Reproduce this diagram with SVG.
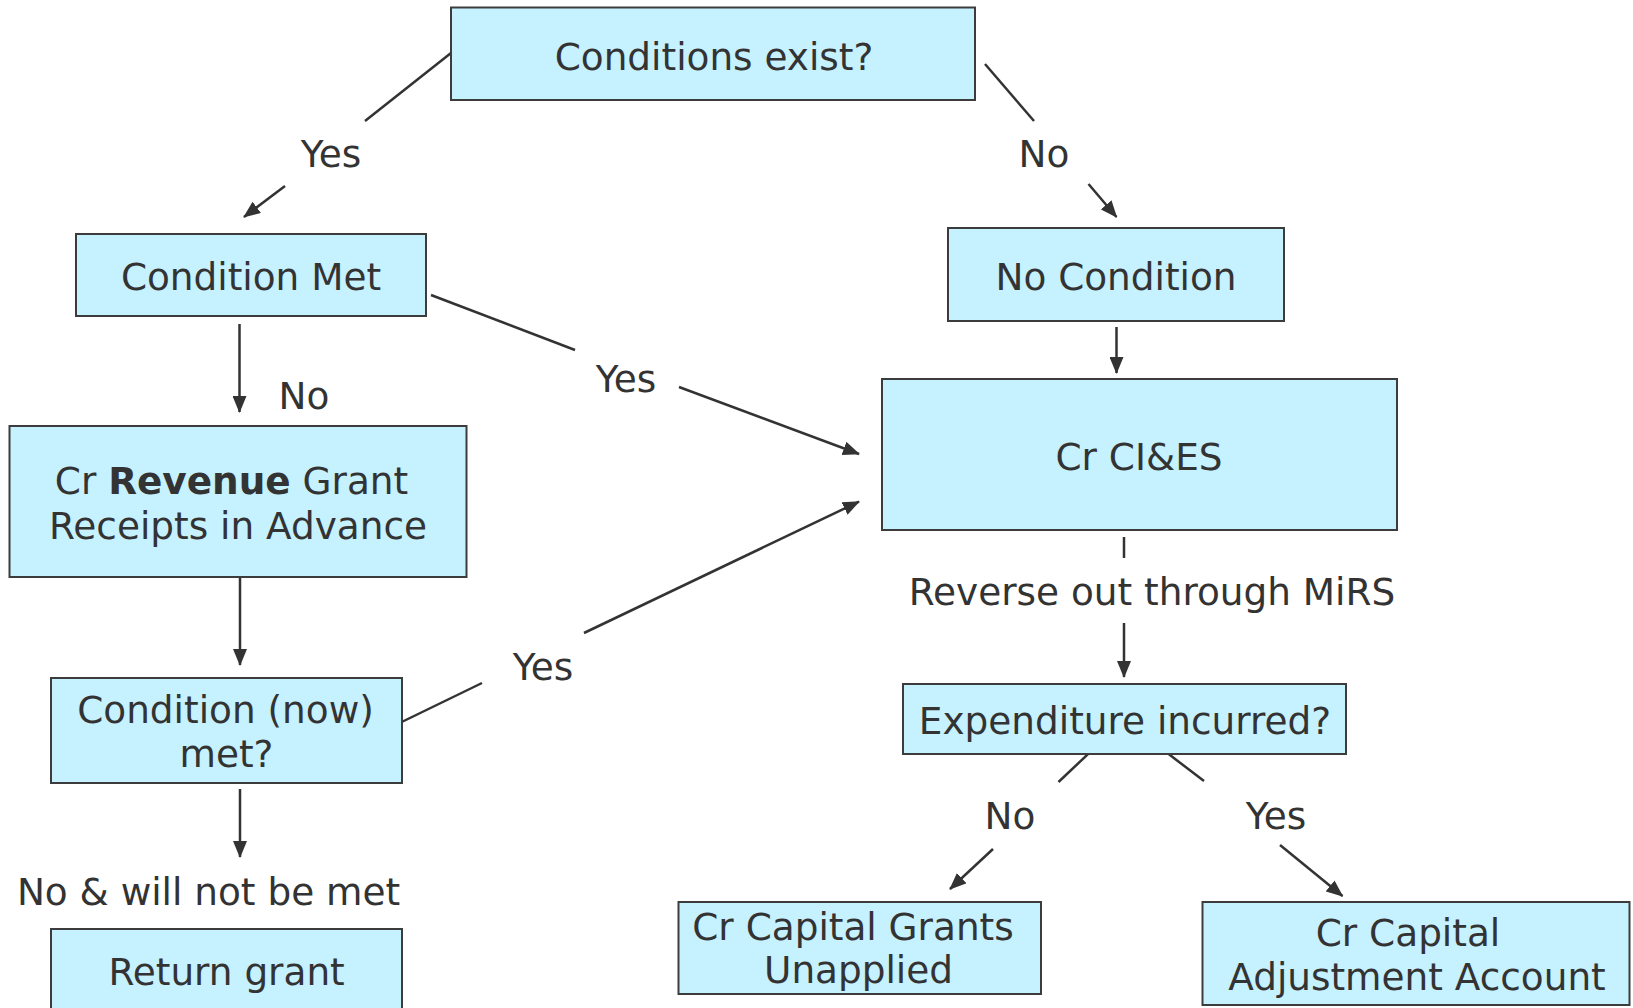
<svg xmlns="http://www.w3.org/2000/svg" width="1633" height="1008" viewBox="0 0 1633 1008">
<style>
.box{fill:#C6F1FF;stroke:#3c3c3c;stroke-width:2}
.t{font-family:"DejaVu Sans","Verdana",sans-serif;font-size:37.4px;fill:#333;text-anchor:middle}
.b{font-weight:bold}
.c{stroke:#333;stroke-width:2.5;fill:none}
.a{marker-end:url(#arr)}
</style>
<defs>
<marker id="arr" markerUnits="userSpaceOnUse" markerWidth="17" markerHeight="14" refX="16" refY="7" orient="auto">
<path d="M0,0 L17,7 L0,14 z" fill="#333"/>
</marker>
</defs>
<rect width="1633" height="1008" fill="#fff"/>
<g id="connectors">
<line class="c" x1="451" y1="53" x2="365" y2="121"/>
<line class="c a" x1="285" y1="186" x2="244" y2="217"/>
<line class="c" x1="985" y1="64" x2="1034" y2="121"/>
<line class="c a" x1="1088.5" y1="184" x2="1116.5" y2="217"/>
<line class="c a" x1="1116.5" y1="327" x2="1116.5" y2="373"/>
<line class="c a" x1="239.5" y1="324" x2="239.5" y2="412"/>
<line class="c" x1="431" y1="295" x2="575" y2="350"/>
<line class="c a" x1="679" y1="387" x2="859" y2="454"/>
<line class="c a" x1="240" y1="577" x2="240" y2="665"/>
<line class="c a" x1="240" y1="789" x2="240" y2="857"/>
<line class="c" x1="401.7" y1="722" x2="482" y2="683"/>
<line class="c a" x1="584" y1="633" x2="859" y2="501.6"/>
<line class="c" x1="1124" y1="537" x2="1124" y2="558"/>
<line class="c a" x1="1124" y1="623" x2="1124" y2="677"/>
<line class="c" x1="1088.5" y1="753.6" x2="1058.5" y2="782"/>
<line class="c a" x1="993" y1="849" x2="950" y2="889"/>
<line class="c" x1="1168" y1="753.6" x2="1204" y2="781"/>
<line class="c a" x1="1280" y1="845" x2="1342.5" y2="896"/>
</g>
<g id="labels">
<text class="t" x="331" y="167">Yes</text>
<text class="t" x="1044" y="167">No</text>
<text class="t" x="304" y="409">No</text>
<text class="t" x="626" y="392">Yes</text>
<text class="t" x="543" y="680">Yes</text>
<text class="t" x="1152" y="605">Reverse out through MiRS</text>
<text class="t" x="1010" y="829">No</text>
<text class="t" x="1276" y="829">Yes</text>
<text class="t" x="208.5" y="905">No &amp; will not be met</text>
</g>
<g id="n-conditions-exist">
<rect class="box" x="451" y="7.5" width="524" height="92.5"/>
<text class="t" x="714" y="70">Conditions exist?</text>
</g>
<g id="n-condition-met">
<rect class="box" x="76" y="234" width="350" height="82"/>
<text class="t" x="251" y="290">Condition Met</text>
</g>
<g id="n-no-condition">
<rect class="box" x="948" y="228" width="336" height="93"/>
<text class="t" x="1116" y="290">No Condition</text>
</g>
<g id="n-cies">
<rect class="box" x="882" y="379" width="515" height="151"/>
<text class="t" x="1139" y="470">Cr CI&amp;ES</text>
</g>
<g id="n-revenue">
<rect class="box" x="9.5" y="426" width="457" height="151"/>
<text class="t" x="231.5" y="494">Cr <tspan class="b">Revenue</tspan> Grant</text>
<text class="t" x="238" y="539">Receipts in Advance</text>
</g>
<g id="n-condition-now">
<rect class="box" x="51" y="678" width="351" height="105"/>
<text class="t" x="225.5" y="722.5">Condition (now)</text>
<text class="t" x="226.5" y="766.5">met?</text>
</g>
<g id="n-return">
<rect class="box" x="51" y="929" width="351" height="90"/>
<text class="t" x="226.6" y="985">Return grant</text>
</g>
<g id="n-expenditure">
<rect class="box" x="903" y="684" width="443" height="70"/>
<text class="t" x="1125" y="733.5">Expenditure incurred?</text>
</g>
<g id="n-unapplied">
<rect class="box" x="678.5" y="902" width="362.5" height="92"/>
<text class="t" x="853" y="940">Cr Capital Grants</text>
<text class="t" x="858.5" y="983">Unapplied</text>
</g>
<g id="n-caa">
<rect class="box" x="1202.5" y="902" width="427" height="103"/>
<text class="t" x="1408" y="945.5">Cr Capital</text>
<text class="t" x="1417" y="990">Adjustment Account</text>
</g>
</svg>
